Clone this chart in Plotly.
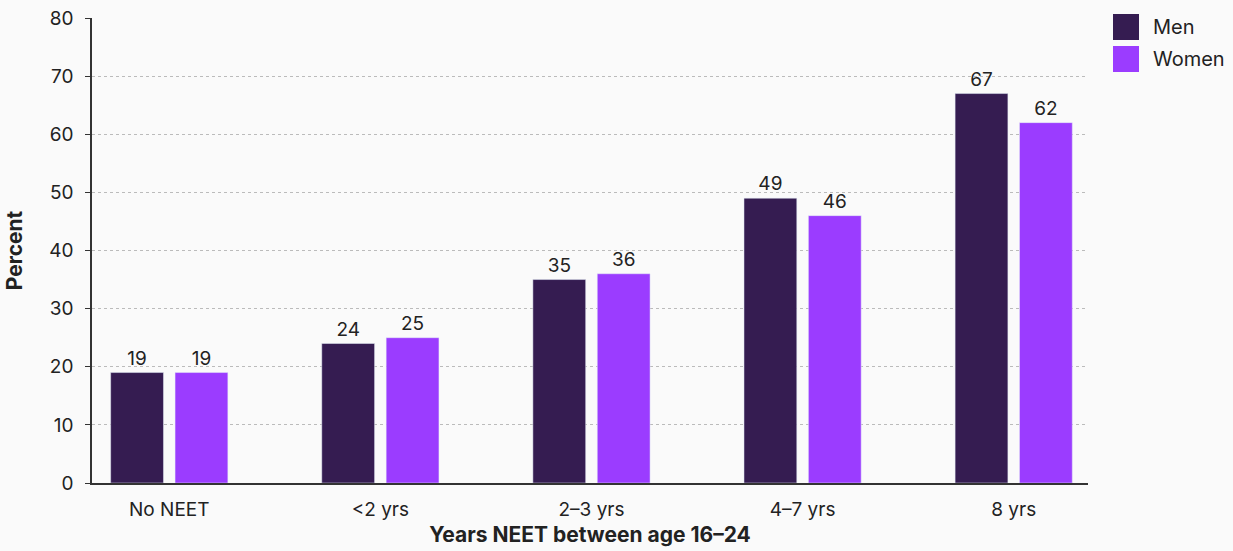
import plotly.graph_objects as go

categories = ["No NEET", "<2 yrs", "2\u20133 yrs", "4\u20137 yrs", "8 yrs"]
series_names = ["Men", "Women"]
men = [19, 24, 35, 49, 67]
women = [19, 25, 36, 46, 62]
y_ticks = [0, 10, 20, 30, 40, 50, 60, 70, 80]

FONT = "Inter, Lato, sans-serif"
TEXT = "#222222"
COLORS = ["#351c51", "#9b3cff"]

fig = go.Figure()
for name, vals, col in zip(series_names, [men, women], COLORS):
    fig.add_trace(go.Bar(
        name=name, x=categories, y=vals, marker_color=col,
        text=[str(v) for v in vals], textposition="outside",
        textfont=dict(size=19, color=TEXT), cliponaxis=False,
        showlegend=False,
    ))

# Legend drawn as large swatches with labels on the right side
W, H = 1233, 551
L, R, T, B = 92, 145, 18, 68
pw, ph = W - L - R, H - T - B


def px_to_paper_x(px):
    return (px - L) / pw


def px_to_paper_y(py):
    return (H - B - py) / ph


shapes = []
annotations = []
for i, (name, col) in enumerate(zip(series_names, COLORS)):
    top = 14 + i * 32
    shapes.append(dict(
        type="rect", xref="paper", yref="paper",
        x0=px_to_paper_x(1113), x1=px_to_paper_x(1139),
        y0=px_to_paper_y(top + 26), y1=px_to_paper_y(top),
        fillcolor=col, line=dict(width=0),
    ))
    annotations.append(dict(
        xref="paper", yref="paper", x=px_to_paper_x(1151),
        y=px_to_paper_y(top + 13), xanchor="left", yanchor="middle",
        text=name, showarrow=False, font=dict(size=20, color=TEXT),
    ))

fig.update_layout(
    width=W, height=H,
    margin=dict(l=L, r=R, t=T, b=B),
    paper_bgcolor="#fafafa", plot_bgcolor="#fafafa",
    font=dict(family=FONT, size=19, color=TEXT),
    barmode="group", bargap=0.39, bargroupgap=0.18,
    shapes=shapes, annotations=annotations,
    xaxis=dict(
        automargin=False,
        range=[-0.366, 4.352],
        showline=True, linecolor="#333333", linewidth=1.5,
        ticks="outside", ticklen=8, tickcolor="rgba(0,0,0,0)",
        tickfont=dict(size=19),
        title=dict(text="<b>Years NEET between age 16\u201324</b>",
                   font=dict(size=21), standoff=8),
    ),
    yaxis=dict(
        automargin=False,
        range=[0, 80], tickvals=y_ticks, showline=True,
        linecolor="#333333", linewidth=1.5,
        ticks="outside", ticklen=5, tickcolor="#333333",
        tickfont=dict(size=19), ticklabelstandoff=8,
        showgrid=True, gridcolor="#bbbbbb", griddash="dot", gridwidth=1,
        zeroline=False,
        title=dict(text="<b>Percent</b>", font=dict(size=21), standoff=21),
    ),
)

fig.write_html("out.html")
